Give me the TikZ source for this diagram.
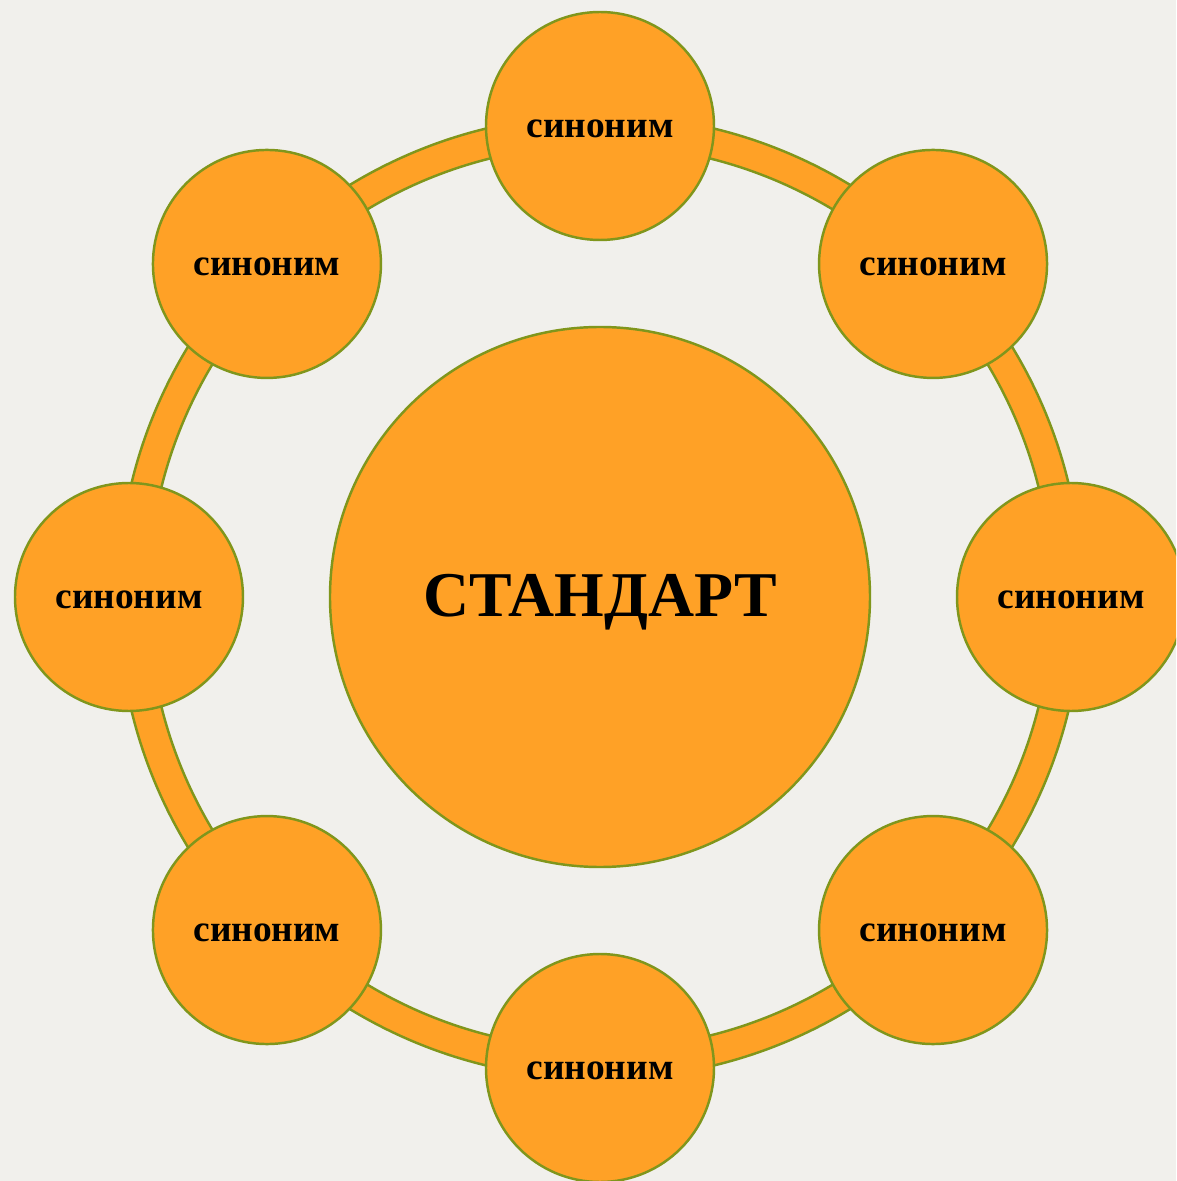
\documentclass[tikz,border=0pt]{standalone}
\usepackage{fontspec}
\setmainfont{Liberation Serif}
\usepackage{pgf,tikz}
\definecolor{naranja}{RGB}{255,161,38}
\definecolor{oliva}{RGB}{128,150,28}
\definecolor{fondo}{RGB}{241,240,236}
\tikzstyle{anillo} = [draw=oliva, fill=naranja, line width=1.4pt, even odd rule]
\tikzstyle{sinonimo} = [circle, draw=oliva, fill=naranja, line width=1.4pt, minimum size=4.56cm, inner sep=0pt, text height=0.464cm, text depth=0pt, font=\bfseries\fontsize{21.3}{25}\selectfont]
\tikzstyle{central} = [circle, draw=oliva, fill=naranja, line width=1.4pt, minimum size=10.8cm, inner sep=0pt, text height=0.766cm, text depth=0pt, font=\bfseries\fontsize{36.3}{42}\selectfont]

\begin{document}
\begin{tikzpicture}
	\fill[fondo] (-12,-11.68) rectangle (11.52,11.94);
	\useasboundingbox (-12,-11.68) rectangle (11.52,11.94);
	\clip (-12,-11.68) rectangle (11.52,11.94);
	\draw[anillo] (0,0) circle (9.64cm) (0,0) circle (9.04cm);
	\node[central](centro) at (0,0) {СТАНДАРТ};
	\node[sinonimo](s1) at (90:9.42) {синоним};
	\node[sinonimo](s2) at (45:9.42) {синоним};
	\node[sinonimo](s3) at (0:9.42) {синоним};
	\node[sinonimo](s4) at (-45:9.42) {синоним};
	\node[sinonimo](s5) at (-90:9.42) {синоним};
	\node[sinonimo](s6) at (-135:9.42) {синоним};
	\node[sinonimo](s7) at (180:9.42) {синоним};
	\node[sinonimo](s8) at (135:9.42) {синоним};
\end{tikzpicture}
\end{document}
